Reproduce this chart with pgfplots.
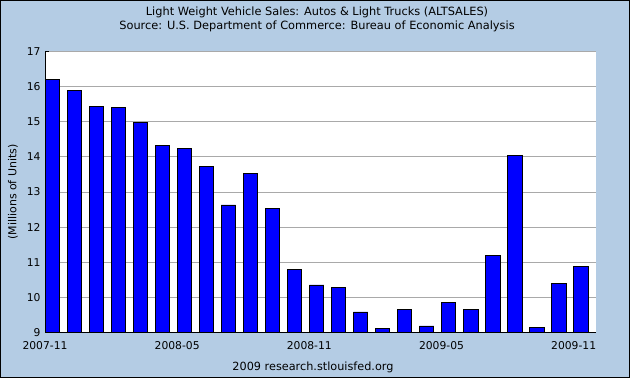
\documentclass[border=0pt]{standalone}
\usepackage{pgfplots}
\pgfplotsset{compat=1.18}
\usepackage{fontspec}
\setmainfont{DejaVu Sans}
\definecolor{bgblue}{RGB}{180,204,228}
\definecolor{gridgray}{RGB}{169,169,169}
\begin{document}
\begin{tikzpicture}[x=1bp,y=1bp]
\fill[bgblue] (0,0) rectangle (630,378);
\draw[black, line width=1.2bp] (0.6,0.6) rectangle (629.4,377.4);
\path[use as bounding box] (0,0) rectangle (630,378);
\begin{axis}[
  at={(45bp,45.7bp)}, anchor=south west,
  scale only axis, width=550.7bp, height=280.6bp,
  xmin=0, xmax=25, ymin=9, ymax=17,
  axis background/.style={fill=white},
  axis x line*=bottom, axis y line*=left,
  axis line style={black, line width=1bp},
  xtick={0,6,12,18,24},
  xticklabels={2007-11,2008-05,2008-11,2009-05,2009-11},
  ytick={9,10,...,17},
  ymajorgrids,
  grid style={gridgray, line width=1bp},
  xtick style={draw=none},
  ytick style={black, line width=1bp},
  tick align=inside,
  major tick length=4bp,
  /pgf/number format/assume math mode=true,
  tick label style={font=\fontsize{10.8}{12}\selectfont},
  xticklabel style={yshift=-6bp},
  yticklabel style={xshift=-1bp},
  ylabel={(Millions of Units)},
  every axis y label/.style={at={(axis description cs:0,0.5)}, xshift=-32bp, rotate=90, anchor=center, font=\fontsize{11}{12}\selectfont},
]
\addplot[ybar, bar width=0.654, bar shift=0.327, fill=blue, draw=black, line width=0.9bp]
coordinates {
(0,16.20) (1,15.89) (2,15.43) (3,15.40) (4,14.97) (5,14.34) (6,14.23) (7,13.74)
(8,12.63) (9,13.52) (10,12.52) (11,10.78) (12,10.35) (13,10.29) (14,9.58) (15,9.12)
(16,9.66) (17,9.18) (18,9.84) (19,9.66) (20,11.20) (21,14.05) (22,9.15) (23,10.40) (24,10.89)
};
\end{axis}
\node[font=\fontsize{11.4}{12}\selectfont] at (317,366) {Light Weight Vehicle Sales: Autos \& Light Trucks (ALTSALES)};
\node[font=\fontsize{11.4}{12}\selectfont] at (317,351.5) {Source: U.S. Department of Commerce: Bureau of Economic Analysis};
\node[font=\fontsize{11.3}{12}\selectfont] at (313,11) {2009 research.stlouisfed.org};
\end{tikzpicture}
\end{document}
